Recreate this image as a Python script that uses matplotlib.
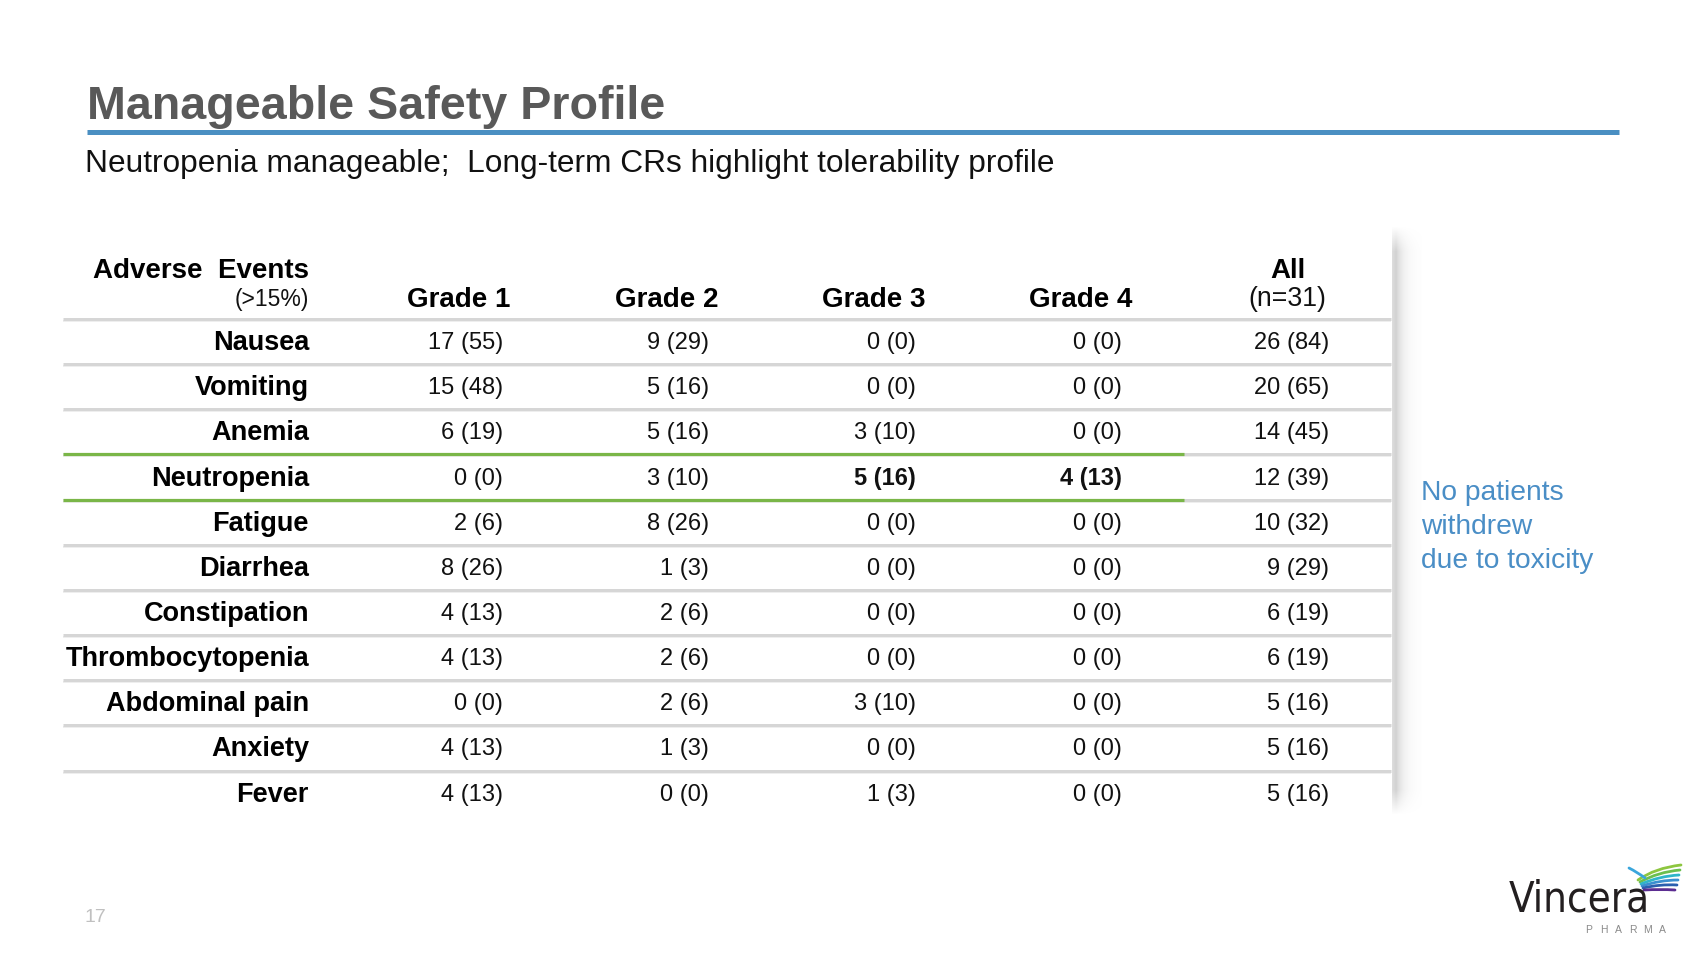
import matplotlib
matplotlib.use("Agg")
import matplotlib.pyplot as plt
from matplotlib.patches import PathPatch
from matplotlib.path import Path
from matplotlib import font_manager as fm
import numpy as np

# ---------------- data ----------------
events = ["Nausea", "Vomiting", "Anemia", "Neutropenia", "Fatigue", "Diarrhea",
          "Constipation", "Thrombocytopenia", "Abdominal pain", "Anxiety", "Fever"]
col_labels = ["Grade 1", "Grade 2", "Grade 3", "Grade 4", "All"]
g1_n = [17, 15, 6, 0, 2, 8, 4, 4, 0, 4, 4]
g1_pct = [55, 48, 19, 0, 6, 26, 13, 13, 0, 13, 13]
g2_n = [9, 5, 5, 3, 8, 1, 2, 2, 2, 1, 0]
g2_pct = [29, 16, 16, 10, 26, 3, 6, 6, 6, 3, 0]
g3_n = [0, 0, 3, 5, 0, 0, 0, 0, 3, 0, 1]
g3_pct = [0, 0, 10, 16, 0, 0, 0, 0, 10, 0, 3]
g4_n = [0, 0, 0, 4, 0, 0, 0, 0, 0, 0, 0]
g4_pct = [0, 0, 0, 13, 0, 0, 0, 0, 0, 0, 0]
all_n = [26, 20, 14, 12, 10, 9, 6, 6, 5, 5, 5]
all_pct = [84, 65, 45, 39, 32, 29, 19, 19, 16, 16, 16]
highlight_event = "Neutropenia"
bold_cols = ["Grade 3", "Grade 4"]

title = "Manageable Safety Profile"
subtitle = "Neutropenia manageable;  Long-term CRs highlight tolerability profile"
side_note = ["No patients", "withdrew", "due to toxicity"]
page_no = "17"
logo_word = "Vincera"
logo_sub = "PHARMA"

# ---------------- figure ----------------
FONT = "Liberation Sans"
plt.rcParams["font.family"] = [FONT, "DejaVu Sans"]
W, H = 1707, 960
fig = plt.figure(figsize=(W / 100, H / 100), dpi=100)
ax = fig.add_axes([0, 0, 1, 1])
ax.set_xlim(0, W)
ax.set_ylim(H, 0)
ax.axis("off")

PX = 0.72  # points per pixel

# title + rule
ax.text(87, 119, title, fontsize=33.6, fontweight="bold", color="#595959", va="baseline")
ax.plot([87, 1619], [132, 132], color="#4a8fc2", lw=5 * PX, solid_capstyle="butt")
ax.text(85, 172, subtitle, fontsize=22.8, color="#111111", va="baseline")

# table geometry
label_x = 309
col_right = [503, 709, 916, 1122, 1329]
col_center = [459, 667, 874, 1081, 1288]
line0 = 319
row_h = 45.15
line_x0, line_x1 = 63, 1391
green_x1 = 1184

# header
ax.text(label_x, 278, "Adverse  Events", fontsize=20, fontweight="bold", ha="right", va="baseline")
ax.text(label_x, 306, "(>15%)", fontsize=16.5, ha="right", va="baseline", color="#111111")
for lab, cx in zip(col_labels[:4], col_center[:4]):
    ax.text(cx, 307, lab, fontsize=20, fontweight="bold", ha="center", va="baseline")
ax.text(col_center[4], 278, col_labels[4], fontsize=20, fontweight="bold", ha="center", va="baseline")
ax.text(col_center[4] - 1, 306, "(n=31)", fontsize=19.3, ha="center", va="baseline", color="#111111")

# separator lines
hi = events.index(highlight_event)
for k in range(len(events)):
    y = line0 + k * row_h
    ax.plot([line_x0, line_x1], [y + 2, y + 2], color="#eeeeee", lw=2 * PX, solid_capstyle="butt")
    ax.plot([line_x0, line_x1], [y, y], color="#d6d6d6", lw=3 * PX, solid_capstyle="butt")
for k in (hi, hi + 1):
    y = line0 + k * row_h
    ax.plot([line_x0, green_x1], [y, y], color="#7ab648", lw=3.2 * PX, solid_capstyle="butt")

# rows
cols_n = [g1_n, g2_n, g3_n, g4_n, all_n]
cols_p = [g1_pct, g2_pct, g3_pct, g4_pct, all_pct]
for i, ev in enumerate(events):
    yc = line0 + (i + 0.5) * row_h
    ax.text(label_x, yc + 8.5, ev, fontsize=19.5, fontweight="bold", ha="right", va="baseline")
    for j in range(5):
        txt = f"{cols_n[j][i]} ({cols_p[j][i]})"
        bold = (ev == highlight_event and col_labels[j] in bold_cols)
        ax.text(col_right[j], yc + 7.5, txt, fontsize=17,
                fontweight="bold" if bold else "normal",
                ha="right", va="baseline", color="#111111")

# vertical shadow divider
sx0, sx1, sy0, sy1 = 1392, 1422, 226, 814
nx, ny = sx1 - sx0, sy1 - sy0
xs = np.arange(nx)
prof = np.where(xs < 4, 0.30 + 0.08 * xs / 3, 0.38 * np.exp(-(xs - 4) / 7.0))
ys = np.arange(ny)
vert = np.clip(np.minimum(ys, ny - ys) / 25.0, 0, 1)
alpha = vert[:, None] * prof[None, :]
img = np.zeros((ny, nx, 4))
img[..., :3] = 0.55
img[..., 3] = alpha
ax.imshow(img, extent=[sx0, sx1, sy1, sy0], interpolation="bilinear", zorder=1, aspect="auto")
ax.set_xlim(0, W)
ax.set_ylim(H, 0)

# side note
for k, s in enumerate(side_note):
    ax.text(1421, 500 + k * 34, s, fontsize=20.3, color="#4a8ec6", va="baseline")

# page number
ax.text(85, 922, page_no, fontsize=14, color="#c0c0c0", va="baseline")

# ---------------- logo ----------------
def _is_upright_condensed(f):
    nm = f.name.lower()
    st = str(f.stretch).lower()
    if "mono" in nm or "serif" in nm:
        return False
    if str(f.style).lower() != "normal":
        return False
    if "italic" in f.fname.lower() or "oblique" in f.fname.lower():
        return False
    if not ("narrow" in nm or "condensed" in nm or "condensed" in st):
        return False
    w = str(f.weight).lower()
    return w in ("400", "500", "normal", "regular", "book", "medium")

cands = [f for f in fm.fontManager.ttflist if _is_upright_condensed(f)]
cands.sort(key=lambda f: (0 if "liberation" in f.name.lower() else
                          1 if "dejavu" in f.name.lower() else
                          2 if "roboto" in f.name.lower() else 3))
if cands:
    lp = fm.FontProperties(fname=cands[0].fname, size=40)
else:
    lp = fm.FontProperties(family=FONT, size=40)
t = ax.text(1509, 911, logo_word, fontproperties=lp, color="#231f20", va="baseline")
fig.canvas.draw()
bb = t.get_window_extent(renderer=fig.canvas.get_renderer())
target_w = 141.0
lp.set_size(40 * target_w / bb.width)
t.set_fontproperties(lp)

sub_x0, sub_x1 = 1589, 1662
for k, ch in enumerate(logo_sub):
    ax.text(sub_x0 + k * (sub_x1 - sub_x0) / (len(logo_sub) - 1), 933, ch,
            fontsize=7.5, color="#8a8a8a", ha="center", va="baseline")

wings = [
    ((1638, 880), (1655, 868), (1681, 865), "#8dc63f"),
    ((1640, 882), (1658, 872), (1680, 870), "#6bbf4e"),
    ((1641, 884), (1660, 876), (1679, 875), "#2fb5c9"),
    ((1642, 886), (1660, 880), (1678, 880), "#3a8fd0"),
    ((1643, 888), (1660, 884), (1677, 885), "#2b5fae"),
    ((1644, 890), (1660, 889), (1675, 890), "#5c2d91"),
    ((1629, 868), (1637, 872), (1645, 878), "#3aa6dc"),
]
for p0, p1, p2, c in wings:
    path = Path([p0, p1, p2], [Path.MOVETO, Path.CURVE3, Path.CURVE3])
    ax.add_patch(PathPatch(path, fill=False, edgecolor=c, lw=2.0, capstyle="round"))

fig.savefig("out.png", dpi=100)
